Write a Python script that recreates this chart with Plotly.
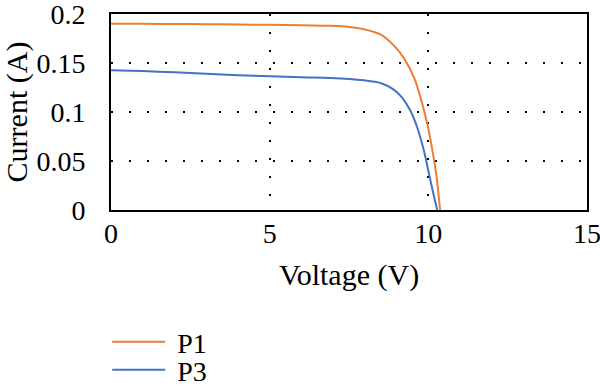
import plotly.graph_objects as go

# Data
p1_voltage = [0, 1, 2, 3, 4, 5, 6, 6.92, 7.5, 7.97, 8.49, 8.91, 9.23, 9.55, 9.76, 9.97, 10.13, 10.26, 10.37]
p1_current = [0.190, 0.1900, 0.1898, 0.1896, 0.1893, 0.189, 0.1886, 0.1879, 0.1868, 0.1845, 0.1792,
              0.168, 0.155, 0.135, 0.114, 0.0875, 0.0606, 0.0337, 0.0]
p3_voltage = [0, 1, 2, 3, 4, 5, 6, 6.92, 7.97, 8.49, 8.91, 9.18, 9.44, 9.65, 9.86, 10.02, 10.18, 10.28]
p3_current = [0.1425, 0.1418, 0.1405, 0.139, 0.1375, 0.1364, 0.1354, 0.1347, 0.1323, 0.1296, 0.1229,
              0.1145, 0.101, 0.0842, 0.0606, 0.037, 0.0135, 0.0]

x_ticks = [0, 5, 10, 15]
x_tick_labels = ["0", "5", "10", "15"]
y_ticks = [0, 0.05, 0.1, 0.15, 0.2]
y_tick_labels = ["0", "0.05", "0.1", "0.15", "0.2"]

FONT = "Liberation Serif"
TICK_SIZE = 28
TITLE_SIZE = 30

fig = go.Figure()
fig.add_trace(go.Scatter(x=p1_voltage, y=p1_current, mode="lines", name="\u00a0P1", legend="legend",
                         line=dict(color="#ED7D31", width=2, shape="spline", smoothing=0.8)))
fig.add_trace(go.Scatter(x=p3_voltage, y=p3_current, mode="lines", name="\u00a0P3", legend="legend2",
                         line=dict(color="#4472C4", width=2, shape="spline", smoothing=0.8)))

axis_common = dict(showline=True, linecolor="black", linewidth=2, mirror=True, automargin=False,
                   showgrid=True, gridcolor="black", gridwidth=1.5, griddash="1.5px,16.5px",
                   zeroline=False, ticks="", ticklabeloverflow="allow",
                   tickfont=dict(family=FONT, size=TICK_SIZE, color="black"))

fig.update_xaxes(range=[0, 15], tickvals=x_ticks, ticktext=x_tick_labels, ticklabelstandoff=-3,
                 title=dict(text="Voltage (V)", font=dict(family=FONT, size=TITLE_SIZE, color="black"), standoff=16),
                 **axis_common)
fig.update_yaxes(range=[0, 0.2], tickvals=y_ticks, ticktext=y_tick_labels, ticklabelstandoff=18,
                 title=dict(text="Current (A)", font=dict(family=FONT, size=TITLE_SIZE, color="black"), standoff=12),
                 **axis_common)

legend_common = dict(x=-0.008, xanchor="left", yref="container", yanchor="middle",
                     bgcolor="rgba(0,0,0,0)", itemwidth=53,
                     font=dict(family=FONT, size=TICK_SIZE, color="black"))

fig.update_layout(
    width=600, height=392,
    margin=dict(l=111, r=13, t=14, b=182, autoexpand=False),
    plot_bgcolor="white", paper_bgcolor="white",
    font=dict(family=FONT, size=TICK_SIZE, color="black"),
    showlegend=True,
    legend=dict(y=1 - 342 / 392, **legend_common),
    legend2=dict(y=1 - 370 / 392, **legend_common),
)

fig.write_html("out.html", config={"displayModeBar": False},
               post_script="document.body.style.margin='0';document.body.style.overflow='hidden';")
